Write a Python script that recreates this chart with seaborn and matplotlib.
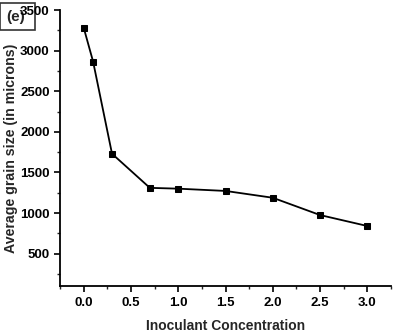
import matplotlib
matplotlib.use("Agg")
import matplotlib.pyplot as plt
import seaborn as sns
import pandas as pd
from matplotlib.ticker import MultipleLocator
from matplotlib.patches import Rectangle

concentration = [0.0, 0.1, 0.3, 0.7, 1.0, 1.5, 2.0, 2.5, 3.0]
grain_size = [3285, 2865, 1730, 1310, 1300, 1272, 1188, 975, 840]

df = pd.DataFrame({"conc": concentration, "size": grain_size})

sns.set_style("ticks")
plt.rcParams['font.family'] = ['Liberation Sans', 'DejaVu Sans']
plt.rcParams['font.weight'] = 'bold'

fig = plt.figure(figsize=(4.0, 3.35), dpi=100)
ax = fig.add_axes([0.15, 0.146, 0.8275, 0.824])
sns.lineplot(data=df, x="conc", y="size", ax=ax, color="black", linewidth=1.3,
             marker="s", markersize=5, markeredgecolor="black", markerfacecolor="black")

ax.set_xlim(-0.25, 3.25)
ax.set_ylim(100, 3500)
ax.xaxis.set_minor_locator(MultipleLocator(0.25))
ax.yaxis.set_minor_locator(MultipleLocator(250))
ax.set_yticks([500, 1000, 1500, 2000, 2500, 3000, 3500])
ax.set_xticks([0.0, 0.5, 1.0, 1.5, 2.0, 2.5, 3.0])
ax.set_xticklabels(["0.0", "0.5", "1.0", "1.5", "2.0", "2.5", "3.0"])
ax.tick_params(axis="both", which="major", length=4, width=1.2, direction="out",
               labelsize=9.5, colors="black")
ax.tick_params(axis="x", which="major", pad=4)
ax.tick_params(axis="both", which="minor", length=2.5, width=1.0, direction="out")
for lab in ax.get_xticklabels() + ax.get_yticklabels():
    lab.set_fontweight("bold")

sns.despine(ax=ax)
for s in ["left", "bottom"]:
    ax.spines[s].set_linewidth(1.3)
    ax.spines[s].set_color("black")

ax.set_xlabel("Inoculant Concentration", fontsize=10, fontweight="bold")
ax.set_ylabel("Average grain size (in microns)", fontsize=10.2, fontweight="bold")
ax.xaxis.set_label_coords(0.5, -0.12)
ax.yaxis.set_label_coords(-0.127, 0.5)

fig.patches.append(Rectangle((0.0, 1 - 30/335), 35/400, 27/335, transform=fig.transFigure,
                             facecolor="white", edgecolor="#333333", linewidth=1.2, zorder=-2))
fig.text(16/400, 1 - 17/335, "(e)", fontsize=11, fontweight="bold", ha="center", va="center",
         zorder=-1)

fig.savefig("out.png", dpi=100)
